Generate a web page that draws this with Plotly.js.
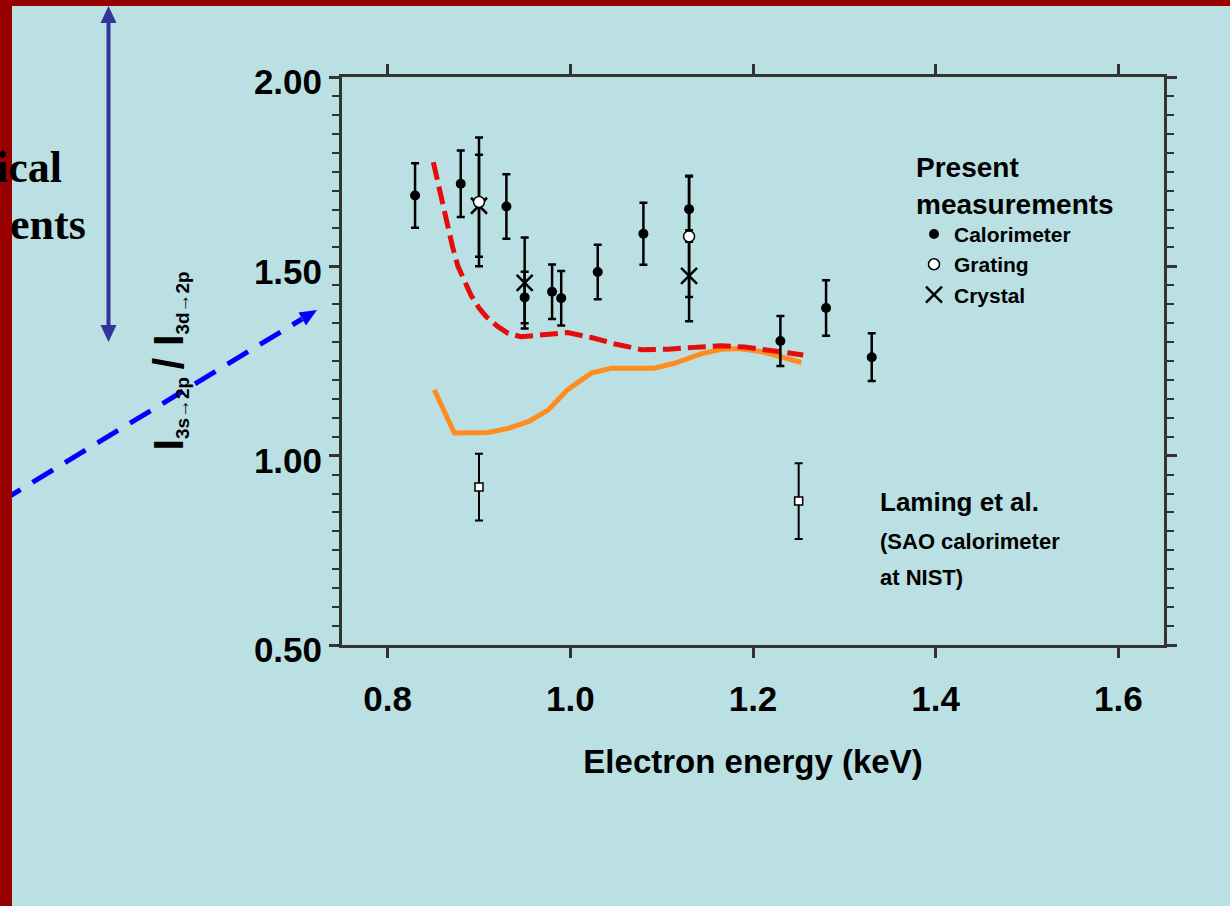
<!DOCTYPE html>
<html><head><meta charset="utf-8">
<script src="https://cdn.plot.ly/plotly-3.0.1.min.js"></script>
<style>html,body{margin:0;padding:0;background:rgb(187,224,227);}#chart{width:1230px;height:906px;}</style>
</head><body><div id="chart"></div>
<script>
// ---- data ----
const calorimeterEnergy = [0.83, 0.88, 0.93, 0.95, 0.98, 0.99, 1.03, 1.08, 1.13, 1.23, 1.28, 1.33];
const calorimeterRatio  = [1.687, 1.718, 1.658, 1.418, 1.433, 1.416, 1.485, 1.586, 1.651, 1.303, 1.390, 1.260];
const calorimeterError  = [0.085, 0.088, 0.085, 0.068, 0.072, 0.072, 0.072, 0.082, 0.086, 0.066, 0.073, 0.063];
const gratingEnergy = [0.90, 1.13];
const gratingRatio  = [1.670, 1.579];
const gratingError  = [0.170, 0.160];
const crystalEnergy = [0.90, 0.95, 1.13];
const crystalRatio  = [1.660, 1.456, 1.475];
const crystalError  = [0.135, 0.120, 0.120];
const lamingEnergy = [0.90, 1.25];
const lamingRatio  = [0.917, 0.880];
const lamingError  = [0.088, 0.100];
const dashedEnergy = [0.850, 0.855, 0.859, 0.866, 0.871, 0.877, 0.884, 0.891, 0.900, 0.908, 0.920, 0.932, 0.946, 0.968, 0.997, 1.023, 1.049, 1.078, 1.107, 1.136, 1.165, 1.191, 1.220, 1.255];
const dashedRatio  = [1.775, 1.720, 1.676, 1.605, 1.552, 1.500, 1.460, 1.425, 1.390, 1.367, 1.342, 1.323, 1.314, 1.319, 1.325, 1.312, 1.295, 1.280, 1.281, 1.286, 1.290, 1.287, 1.276, 1.266];
const solidEnergy = [0.851, 0.873, 0.910, 0.932, 0.954, 0.976, 0.997, 1.023, 1.045, 1.092, 1.114, 1.143, 1.165, 1.184, 1.209, 1.231, 1.253];
const solidRatio  = [1.174, 1.060, 1.061, 1.072, 1.090, 1.121, 1.174, 1.218, 1.231, 1.231, 1.244, 1.269, 1.281, 1.283, 1.275, 1.260, 1.246];
const xTickVals = [0.8, 1.0, 1.2, 1.4, 1.6];
const xTickText = ['0.8', '1.0', '1.2', '1.4', '1.6'];
const yTickVals = [0.5, 1.0, 1.5, 2.0];
const yTickText = ['0.50', '1.00', '1.50', '2.00'];

// ---- layout helpers ----
const W = 1230, H = 906;
const M = {l: 342, r: 66, t: 77, b: 261};
const PW = W - M.l - M.r, PH = H - M.t - M.b;
const fx = p => (p - M.l) / PW;
const fy = p => (H - M.b - p) / PH;
const SANS = 'Liberation Sans, Arial, Helvetica, sans-serif';
const SERIF = 'Liberation Serif, Times New Roman, serif';
const BG = 'rgb(187,224,227)';
const AX = '#333333';

const errStyle = (arr, th) => ({type: 'data', array: arr, visible: true, color: '#000', thickness: th, width: 4});

const traces = [
  {x: solidEnergy, y: solidRatio, mode: 'lines', line: {color: 'rgb(255,140,30)', width: 5}, showlegend: false, hoverinfo: 'skip'},
  {x: dashedEnergy, y: dashedRatio, mode: 'lines', line: {color: 'rgb(228,12,12)', width: 5, dash: '18px,7px'}, showlegend: false, hoverinfo: 'skip'},
  {x: calorimeterEnergy, y: calorimeterRatio, name: 'Calorimeter', mode: 'markers', legendrank: 1,
   marker: {symbol: 'circle', size: 10, color: '#000'}, error_y: errStyle(calorimeterError, 2.5)},
  {x: crystalEnergy, y: crystalRatio, name: 'Crystal', mode: 'markers', legendrank: 3,
   marker: {symbol: 'x-thin-open', size: 16, color: '#000', line: {color: '#000', width: 2.5}}, error_y: errStyle(crystalError, 2.5)},
  {x: gratingEnergy, y: gratingRatio, name: 'Grating', mode: 'markers', legendrank: 2,
   marker: {symbol: 'circle', size: 11, color: '#fff', line: {color: '#000', width: 1.5}}, error_y: errStyle(gratingError, 2.5)},
  {x: lamingEnergy, y: lamingRatio, name: 'Laming et al.', mode: 'markers', showlegend: false,
   marker: {symbol: 'square', size: 8, color: '#fff', line: {color: '#000', width: 1.5}}, error_y: errStyle(lamingError, 2)}
];

const tri = (a, b, c) => `M ${fx(a[0])} ${fy(a[1])} L ${fx(b[0])} ${fy(b[1])} L ${fx(c[0])} ${fy(c[1])} Z`;

const shapes = [
  // vertical double arrow
  {type: 'line', xref: 'paper', yref: 'paper', x0: fx(108.5), x1: fx(108.5), y0: fy(20), y1: fy(328), line: {color: '#333399', width: 4}},
  {type: 'path', xref: 'paper', yref: 'paper', path: tri([108.5, 6], [100.5, 23], [116.5, 23]), fillcolor: '#333399', line: {width: 0}},
  {type: 'path', xref: 'paper', yref: 'paper', path: tri([108.5, 342], [100.5, 325], [116.5, 325]), fillcolor: '#333399', line: {width: 0}},
  // blue dashed arrow
  {type: 'line', xref: 'paper', yref: 'paper', x0: fx(0), y0: fy(502), x1: fx(302), y1: fy(319), line: {color: '#0000FF', width: 5, dash: '24px,14px'}},
  {type: 'path', xref: 'paper', yref: 'paper', path: tri([317, 310], [298.5, 312.5], [306, 325.5]), fillcolor: '#0000FF', line: {width: 0}},
  // slide border
  {type: 'rect', xref: 'paper', yref: 'paper', x0: fx(0), x1: fx(12), y0: fy(0), y1: fy(H), fillcolor: '#990000', line: {width: 0}, layer: 'above'},
  {type: 'rect', xref: 'paper', yref: 'paper', x0: fx(0), x1: fx(W), y0: fy(0), y1: fy(6), fillcolor: '#990000', line: {width: 0}, layer: 'above'}
];

const ann = (text, x, y, size, opts) => Object.assign({
  text, xref: 'paper', yref: 'paper', x: fx(x), y: fy(y), showarrow: false,
  xanchor: 'left', yanchor: 'middle', font: {family: SANS, size, color: '#000', weight: 'bold'}
}, opts || {});

const annotations = [
  ann('Laming et al.', 878, 502, 26),
  ann('(SAO calorimeter', 878, 541, 22),
  ann('at NIST)', 878, 577, 22),
  ann('ical', 64, 167, 44, {xanchor: 'right', font: {family: SERIF, size: 44, color: '#000', weight: 'bold'}}),
  ann('ents', 88, 224, 44, {xanchor: 'right', font: {family: SERIF, size: 44, color: '#000', weight: 'bold'}})
];

const tickFont = {family: SANS, size: 35, color: '#000', weight: 'bold'};

const layout = {
  width: W, height: H,
  margin: M,
  paper_bgcolor: BG, plot_bgcolor: BG,
  showlegend: true,
  legend: {
    x: fx(914), y: fy(141), xanchor: 'left', yanchor: 'top',
    bgcolor: 'rgba(0,0,0,0)', borderwidth: 0, itemwidth: 30, tracegroupgap: 0,
    font: {family: SANS, size: 21, color: '#000', weight: 'bold'},
    title: {text: 'Present<br>measurements', font: {family: SANS, size: 28, color: '#000', weight: 'bold'}}
  },
  xaxis: {
    range: [0.75, 1.65], tickmode: 'array', tickvals: xTickVals, ticktext: xTickText,
    ticks: 'outside', ticklen: 10, tickwidth: 2.5, tickcolor: AX,
    showline: true, linewidth: 3, linecolor: AX, mirror: 'ticks',
    showgrid: false, zeroline: false, tickfont: tickFont, ticklabelstandoff: 11,
    title: {text: 'Electron energy (keV)', font: {family: SANS, size: 33, color: '#000', weight: 'bold'}, standoff: 33}
  },
  yaxis: {
    range: [0.5, 2.0], tickmode: 'array', tickvals: yTickVals, ticktext: yTickText,
    ticks: 'outside', ticklen: 10, tickwidth: 2.5, tickcolor: AX,
    minor: {tickmode: 'linear', tick0: 0.5, dtick: 0.05, ticks: 'outside', ticklen: 7, tickwidth: 2, tickcolor: AX, showgrid: false},
    showline: true, linewidth: 3, linecolor: AX, mirror: 'ticks',
    showgrid: false, zeroline: false, tickfont: tickFont, ticklabelstandoff: 0, ticklabelshift: 5,
    title: {text: '<span style="font-size:42px">I</span><sub>3s→2p</sub> <span style="font-size:42px">/ I</span><sub>3d→2p</sub>',
            font: {family: SANS, size: 27, color: '#000', weight: 'bold'}, standoff: 63}
  },
  shapes, annotations
};

Plotly.newPlot('chart', traces, layout, {displayModeBar: false});
</script></body></html>
